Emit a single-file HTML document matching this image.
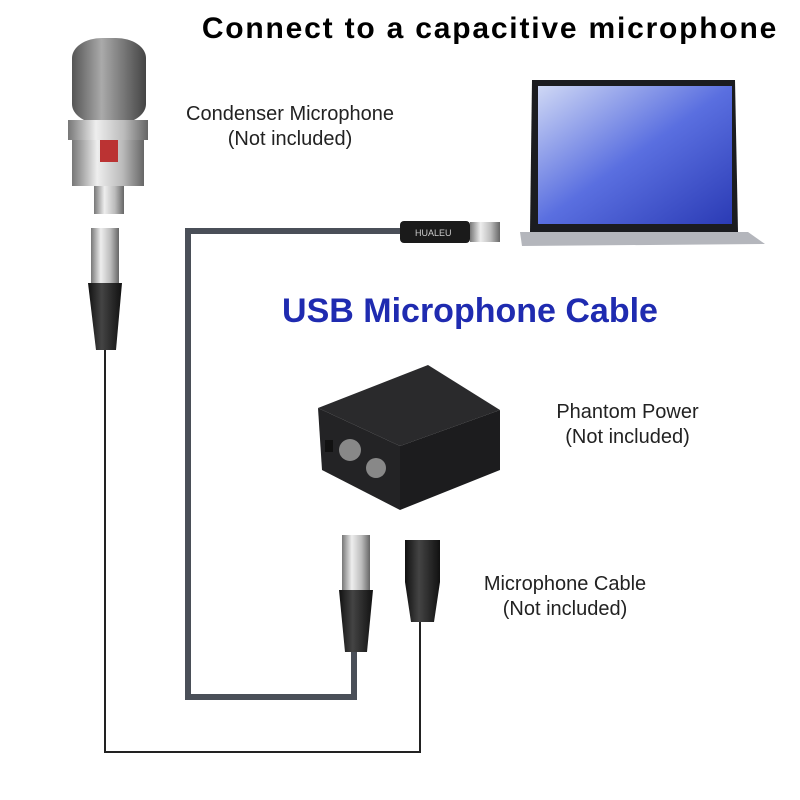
<!DOCTYPE html>
<html><head><meta charset="utf-8"><style>
body{margin:0;background:#fff;}
.t{position:absolute;font-family:"Liberation Sans",sans-serif;color:#222;font-size:20px;text-align:center;line-height:25px;}
</style></head><body>
<div style="position:relative;width:800px;height:800px;overflow:hidden;background:#fff">
<svg width="800" height="800" style="position:absolute;left:0;top:0">
<defs>
<linearGradient id="sil" x1="0" x2="1"><stop offset="0" stop-color="#777"/><stop offset="0.35" stop-color="#eee"/><stop offset="0.7" stop-color="#bbb"/><stop offset="1" stop-color="#666"/></linearGradient>
<linearGradient id="grl" x1="0" x2="1"><stop offset="0" stop-color="#555"/><stop offset="0.4" stop-color="#aaa"/><stop offset="1" stop-color="#444"/></linearGradient>
<linearGradient id="blk" x1="0" x2="1"><stop offset="0" stop-color="#111"/><stop offset="0.4" stop-color="#444"/><stop offset="1" stop-color="#111"/></linearGradient>
<linearGradient id="scr" x1="0" y1="0" x2="1" y2="1"><stop offset="0" stop-color="#cfd8f5"/><stop offset="0.5" stop-color="#5a6fe0"/><stop offset="1" stop-color="#2b3bb5"/></linearGradient>
</defs>
<path d="M105,350 L105,752 L420,752 L420,620" fill="none" stroke="#222" stroke-width="2"/>
<path d="M400,231 L188,231 L188,697 L354,697 L354,650" fill="none" stroke="#4a4f58" stroke-width="6"/>
<rect x="72" y="38" width="74" height="86" rx="30" ry="20" fill="url(#grl)"/>
<rect x="68" y="120" width="80" height="20" fill="url(#sil)"/>
<rect x="72" y="140" width="72" height="46" fill="url(#sil)"/>
<rect x="100" y="140" width="18" height="22" fill="#b33"/>
<rect x="94" y="186" width="30" height="28" fill="url(#sil)"/>
<rect x="91" y="228" width="28" height="55" fill="url(#sil)"/>
<path d="M88,283 L122,283 L116,350 L96,350 Z" fill="url(#blk)"/>
<rect x="400" y="221" width="70" height="22" rx="4" fill="#1a1a1a"/>
<rect x="470" y="222" width="30" height="20" fill="url(#sil)"/>
<text x="415" y="236" font-family="Liberation Sans" font-size="9" fill="#ccc">HUALEU</text>
<path d="M532,80 L735,80 L738,232 L530,232 Z" fill="#1b1c20"/>
<rect x="538" y="86" width="194" height="138" fill="url(#scr)"/>
<path d="M520,232 L748,232 L765,244 L522,246 Z" fill="#b4b6bc"/>
<path d="M318,408 L428,365 L500,410 L400,446 Z" fill="#2a2a2c"/>
<path d="M400,446 L500,410 L500,470 L400,510 Z" fill="#1c1c1e"/>
<path d="M318,408 L400,446 L400,510 L322,470 Z" fill="#232325"/>
<circle cx="350" cy="450" r="11" fill="#888"/>
<circle cx="376" cy="468" r="10" fill="#888"/>
<rect x="325" y="440" width="8" height="12" fill="#111"/>
<rect x="342" y="535" width="28" height="55" fill="url(#sil)"/>
<path d="M339,590 L373,590 L367,652 L345,652 Z" fill="url(#blk)"/>
<rect x="405" y="540" width="35" height="42" fill="url(#blk)"/>
<path d="M405,582 L440,582 L434,622 L411,622 Z" fill="url(#blk)"/>
</svg>
<div style="position:absolute;left:190px;top:12px;width:600px;text-align:center;font-family:'Liberation Sans',sans-serif;font-weight:bold;font-size:30px;letter-spacing:1.8px;color:#000;white-space:nowrap">Connect to a capacitive microphone</div>
<div class="t" style="left:170px;top:102px;width:240px">Condenser Microphone<br>(Not included)</div>
<div style="position:absolute;left:270px;top:292px;width:400px;text-align:center;font-family:'Liberation Sans',sans-serif;font-weight:bold;font-size:34px;color:#1f2bb0">USB Microphone Cable</div>
<div class="t" style="left:540px;top:400px;width:175px">Phantom Power<br>(Not included)</div>
<div class="t" style="left:470px;top:572px;width:190px">Microphone Cable<br>(Not included)</div>
</div>
</body></html>
